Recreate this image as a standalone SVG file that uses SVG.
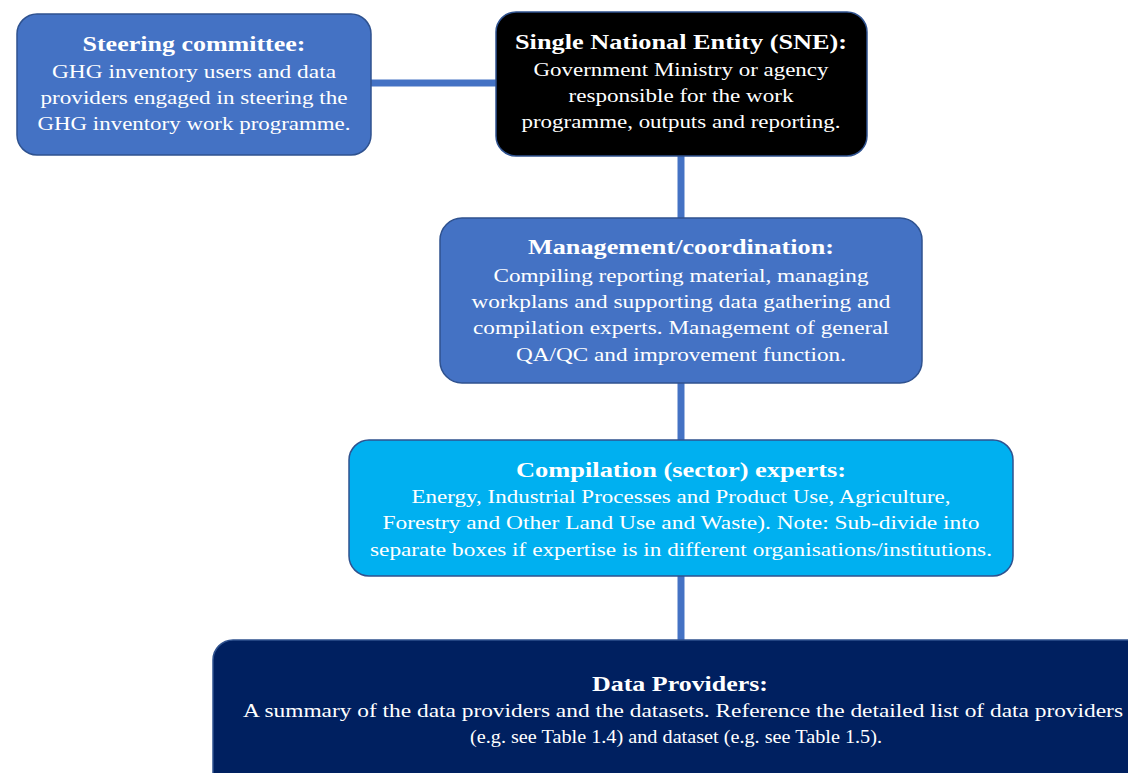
<svg xmlns="http://www.w3.org/2000/svg" width="1128" height="773" viewBox="0 0 1128 773">
<style>
.t{font-family:"Liberation Serif","Times New Roman",serif;font-size:21px;font-weight:bold;fill:#fff;text-anchor:middle}
.b{font-family:"Liberation Serif","Times New Roman",serif;font-size:19px;fill:#fff;text-anchor:middle}
.mid{fill:#4472C4;stroke:#2F528F;stroke-width:1.5}
.conn{stroke:#4472C4;stroke-width:7;fill:none}
</style>
<rect width="1128" height="773" fill="#fff"/>
<g id="connectors">
<line class="conn" x1="370" y1="83" x2="497" y2="83"/>
<line class="conn" x1="681" y1="155" x2="681" y2="219"/>
<line class="conn" x1="681" y1="382" x2="681" y2="441"/>
<line class="conn" x1="681" y1="575" x2="681" y2="641"/>
</g>
<g id="steering">
<rect class="mid" x="17" y="14" width="354" height="141" rx="20"/>
<text class="t" x="194" y="51" textLength="223" lengthAdjust="spacingAndGlyphs">Steering committee:</text>
<text class="b" x="194" y="78" textLength="284" lengthAdjust="spacingAndGlyphs">GHG inventory users and data</text>
<text class="b" x="194" y="104" textLength="307" lengthAdjust="spacingAndGlyphs">providers engaged in steering the</text>
<text class="b" x="194" y="130" textLength="313" lengthAdjust="spacingAndGlyphs">GHG inventory work programme.</text>
</g>
<g id="sne">
<rect x="496" y="12" width="371" height="144" rx="20" fill="#000" stroke="#2F528F" stroke-width="1.5"/>
<text class="t" x="681" y="49" textLength="332" lengthAdjust="spacingAndGlyphs">Single National Entity (SNE):</text>
<text class="b" x="681" y="76" textLength="295" lengthAdjust="spacingAndGlyphs">Government Ministry or agency</text>
<text class="b" x="681" y="102" textLength="225" lengthAdjust="spacingAndGlyphs">responsible for the work</text>
<text class="b" x="681" y="128" textLength="319" lengthAdjust="spacingAndGlyphs">programme, outputs and reporting.</text>
</g>
<g id="management">
<rect class="mid" x="440" y="218" width="482" height="165" rx="22"/>
<text class="t" x="681" y="254" textLength="306" lengthAdjust="spacingAndGlyphs">Management/coordination:</text>
<text class="b" x="681" y="282" textLength="375" lengthAdjust="spacingAndGlyphs">Compiling reporting material, managing</text>
<text class="b" x="681" y="308" textLength="419" lengthAdjust="spacingAndGlyphs">workplans and supporting data gathering and</text>
<text class="b" x="681" y="334" textLength="416" lengthAdjust="spacingAndGlyphs">compilation experts. Management of general</text>
<text class="b" x="681" y="361" textLength="330" lengthAdjust="spacingAndGlyphs">QA/QC and improvement function.</text>
</g>
<g id="compilation">
<rect x="349" y="440" width="664" height="136" rx="20" fill="#00B0F0" stroke="#2F528F" stroke-width="1.5"/>
<text class="t" x="681" y="477" textLength="330" lengthAdjust="spacingAndGlyphs">Compilation (sector) experts:</text>
<text class="b" x="681" y="503" textLength="539" lengthAdjust="spacingAndGlyphs">Energy, Industrial Processes and Product Use, Agriculture,</text>
<text class="b" x="681" y="529" textLength="597" lengthAdjust="spacingAndGlyphs">Forestry and Other Land Use and Waste). Note: Sub-divide into</text>
<text class="b" x="681" y="556" textLength="622" lengthAdjust="spacingAndGlyphs">separate boxes if expertise is in different organisations/institutions.</text>
</g>
<g id="data-providers">
<rect x="213" y="640" width="940" height="160" rx="20" fill="#002060" stroke="#2F528F" stroke-width="1.5"/>
<text class="t" x="680" y="691" textLength="176" lengthAdjust="spacingAndGlyphs">Data Providers:</text>
<text class="b" x="683" y="717" textLength="880" lengthAdjust="spacingAndGlyphs">A summary of the data providers and the datasets. Reference the detailed list of data providers</text>
<text class="b" x="676" y="743" textLength="412" lengthAdjust="spacingAndGlyphs">(e.g. see Table 1.4) and dataset (e.g. see Table 1.5).</text>
</g>
</svg>
